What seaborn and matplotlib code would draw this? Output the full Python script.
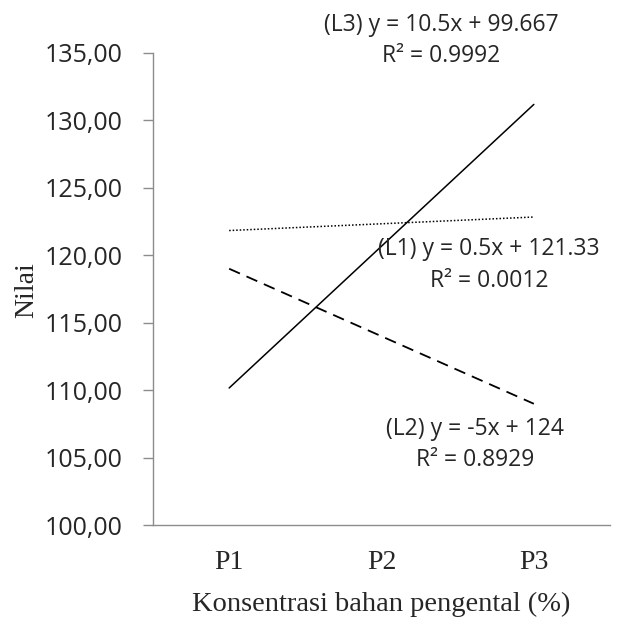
import matplotlib
matplotlib.use("Agg")
import matplotlib.pyplot as plt
import seaborn as sns
import pandas as pd
from matplotlib.ticker import FuncFormatter

categories = ["P1", "P2", "P3"]
l1_values = [121.83, 122.33, 122.83]
l2_values = [119.0, 114.0, 109.0]
l3_values = [110.17, 120.67, 131.17]
y_ticks = [100, 105, 110, 115, 120, 125, 130, 135]
ann_l1 = ["(L1) y = 0.5x + 121.33", "R² = 0.0012"]
ann_l2 = ["(L2) y = -5x + 124", "R² = 0.8929"]
ann_l3 = ["(L3) y = 10.5x + 99.667", "R² = 0.9992"]

sns.set_style("white")
sans = ["Open Sans", "DejaVu Sans"]
serif = ["Liberation Serif", "DejaVu Serif"]

W = 617.0
fig = plt.figure(figsize=(6.17, 6.17), dpi=100)
ax = fig.add_axes([153/W, 1 - 525.3/W, 457/W, (525.3 - 52.7)/W])

df = pd.DataFrame({"x": categories * 3,
                   "y": l1_values + l2_values + l3_values,
                   "s": ["L1"] * 3 + ["L2"] * 3 + ["L3"] * 3})
sns.lineplot(data=df[df.s == "L1"], x="x", y="y", ax=ax, color="black",
             linewidth=1.1, linestyle=(0, (1, 1.3)), sort=False)
sns.lineplot(data=df[df.s == "L2"], x="x", y="y", ax=ax, color="black",
             linewidth=1.3, linestyle=(0, (6.5, 4)), sort=False)
sns.lineplot(data=df[df.s == "L3"], x="x", y="y", ax=ax, color="black",
             linewidth=1.1, linestyle="-", sort=False)

ax.set_xlim(-0.5, 2.5)
ax.set_ylim(100, 135)
ax.set_yticks(y_ticks)
ax.yaxis.set_major_formatter(FuncFormatter(lambda v, p: f"{v:.2f}".replace(".", ",")))
for sp in ["top", "right"]:
    ax.spines[sp].set_visible(False)
for sp in ["left", "bottom"]:
    ax.spines[sp].set_color("#8c8c8c")
    ax.spines[sp].set_linewidth(1.0)
ax.tick_params(axis="y", direction="out", length=7, width=1.0, color="#8c8c8c",
               left=True, pad=15)
ax.tick_params(axis="x", length=0, pad=18)
for lab in ax.get_yticklabels():
    lab.set_fontfamily(sans)
    lab.set_fontsize(18)
for lab in ax.get_xticklabels():
    lab.set_fontfamily(serif)
    lab.set_fontsize(20)
ax.set_xlabel("Konsentrasi bahan pengental (%)", fontfamily=serif, fontsize=20.5, labelpad=12)
ax.set_ylabel("")
fig.text(27/W, 1 - 290/W, "Nilai", rotation=90, ha="center", va="center",
         fontfamily=serif, fontsize=20)

def ann(lines, cx, baselines):
    for t, b in zip(lines, baselines):
        fig.text(cx/W, 1 - b/W, t, ha="center", va="baseline", fontfamily=sans,
                 fontsize=16.5)

ann(ann_l3, 441, [31, 62])
ann(ann_l1, 489, [255, 287])
ann(ann_l2, 475, [435, 466])

fig.savefig("out.png", dpi=100, facecolor="white")
